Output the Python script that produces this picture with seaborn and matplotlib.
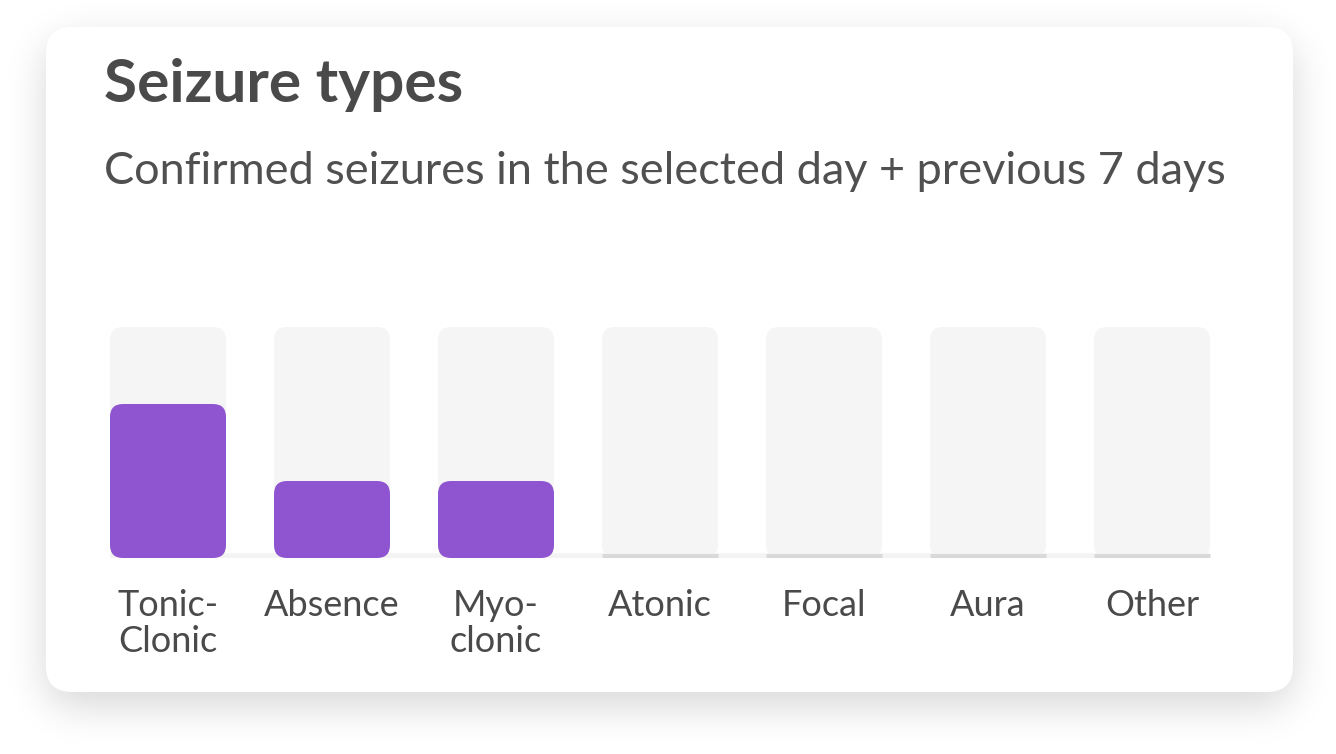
import matplotlib
matplotlib.use("Agg")
import matplotlib.pyplot as plt
import seaborn as sns
import numpy as np
import pandas as pd
from matplotlib.patches import FancyBboxPatch

# ---- data ----
categories = ["Tonic-\nClonic", "Absence", "Myo-\nclonic", "Atonic", "Focal", "Aura", "Other"]
counts = [2, 1, 1, 0, 0, 0, 0]
track_max = 3
title = "Seizure types"
subtitle = "Confirmed seizures in the selected day + previous 7 days"

sns.set_theme(style="white")
plt.rcParams['font.family'] = ['Lato', 'DejaVu Sans']

W, H = 1336, 754
fig = plt.figure(figsize=(W / 100, H / 100), dpi=100)
fig.patch.set_facecolor("white")

# background axes in pixel coordinates
bg = fig.add_axes([0, 0, 1, 1])
bg.set_xlim(0, W)
bg.set_ylim(H, 0)
bg.axis("off")

# card geometry
cx0, cy0, cx1, cy1, cr = 46, 27, 1293, 692, 26

# soft shadow via blurred mask
yy, xx = np.mgrid[0:H, 0:W] + 0.5
sh_off = 14
dx = np.maximum.reduce([cx0 + cr - xx, np.zeros_like(xx), xx - (cx1 - cr)])
dy = np.maximum.reduce([cy0 + sh_off + cr - yy, np.zeros_like(yy), yy - (cy1 + sh_off - cr)])
mask = ((dx ** 2 + dy ** 2) <= cr ** 2).astype(float)
sigma = 20
k = np.arange(-3 * sigma, 3 * sigma + 1)
kern = np.exp(-k ** 2 / (2 * sigma ** 2))
kern /= kern.sum()
blur = np.apply_along_axis(lambda r: np.convolve(r, kern, mode="same"), 1, mask)
blur = np.apply_along_axis(lambda c: np.convolve(c, kern, mode="same"), 0, blur)
rgba = np.zeros((H, W, 4))
rgba[..., 3] = blur * 0.16
bg.imshow(rgba, extent=(0, W, H, 0), interpolation="bilinear", zorder=0)

card = FancyBboxPatch((cx0, cy0), cx1 - cx0, cy1 - cy0,
                      boxstyle=f"round,pad=0,rounding_size={cr}",
                      fc="white", ec="none", zorder=1)
bg.add_patch(card)

bg.text(104, 102, title, fontsize=43.5, fontweight="bold", color="#4a4a4a",
        va="baseline", ha="left", zorder=2)
bg.text(104, 184, subtitle, fontsize=32.5, color="#505050",
        va="baseline", ha="left", zorder=2)

# ---- chart axes ----
step = 164
left_px, right_px = 168 - step / 2, 1152 + step / 2
base_px, top_px = 558, 327
ax = fig.add_axes([left_px / W, (H - base_px) / H,
                   (right_px - left_px) / W, (base_px - top_px) / H])
ax.set_facecolor("none")
bw = 116 / step

df = pd.DataFrame({"type": categories, "count": counts, "track": [track_max] * len(categories)})
sns.barplot(data=df, x="type", y="track", color="#f5f5f5", width=bw, ax=ax,
            saturation=1, order=categories)
n_track = len(ax.patches)
sns.barplot(data=df, x="type", y="count", color="#8f54d0", width=bw, ax=ax,
            saturation=1, order=categories)

ax.set_xlim(-0.5, len(categories) - 0.5)
ax.set_ylim(0, track_max)

# replace rectangles with rounded bars
ux = (right_px - left_px) / len(categories)  # px per x unit
uy = (base_px - top_px) / track_max          # px per y unit
rad_px = 13
rs = rad_px / ux
aspect = (rad_px / uy) / rs
patches = list(ax.patches)
for i, p in enumerate(patches):
    x, y = p.get_x(), p.get_y()
    w, h = p.get_width(), p.get_height()
    fc = p.get_facecolor()
    p.remove()
    if h <= 0:
        continue
    rsz = min(rs, h / aspect / 2)
    fb = FancyBboxPatch((x, y), w, h, boxstyle=f"round,pad=0,rounding_size={rsz}",
                        mutation_aspect=aspect, fc=fc, ec="none",
                        zorder=2 if i >= n_track else 1)
    ax.add_patch(fb)

# faint baseline and zero markers
ax.hlines(2 / uy, -bw / 2, len(categories) - 1 + bw / 2, color="#f3f3f3", lw=4, zorder=1.5)
for i, c in enumerate(counts):
    if c == 0:
        ax.hlines(2 / uy, i - bw / 2, i + bw / 2, color="#d9d9d9", lw=3.5, zorder=3)

ax.set_xticks(range(len(categories)))
ax.set_xticklabels(categories, fontsize=26, color="#4a4a4a", linespacing=1.12, va="top")
ax.tick_params(axis="x", length=0, pad=22)
ax.set_yticks([])
ax.set_xlabel("")
ax.set_ylabel("")
for s in ax.spines.values():
    s.set_visible(False)

fig.savefig("out.png", dpi=100, facecolor="white")
